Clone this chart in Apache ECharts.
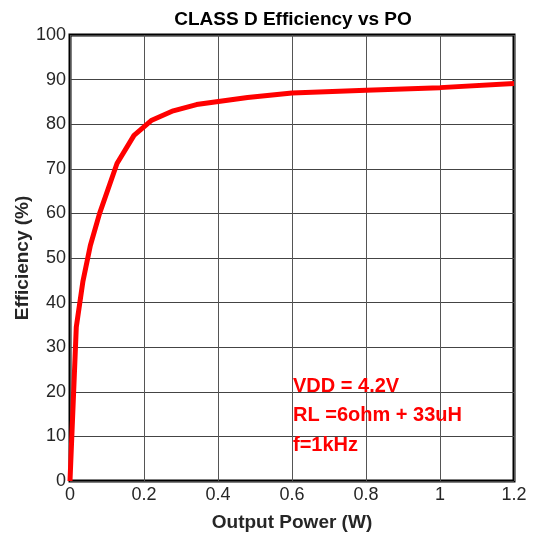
<!DOCTYPE html>
<html>
<head>
<meta charset="utf-8">
<script src="https://cdn.jsdelivr.net/npm/echarts@6/dist/echarts.min.js"></script>
<style>
  html, body { margin: 0; padding: 0; background: #fff; }
  #main { width: 533px; height: 536px; }
</style>
</head>
<body>
<div id="main"></div>
<script>
// output power (W) / efficiency (%)
var powerW = [0, 0.017, 0.035, 0.055, 0.08, 0.127, 0.173, 0.221, 0.279, 0.342, 0.401, 0.48, 0.6, 0.8, 1.0, 1.2];
var efficiency = [0, 34.5, 44.8, 52.8, 60, 71.2, 77.5, 80.9, 83.0, 84.4, 85.1, 86.0, 87.0, 87.6, 88.2, 89.1];
var notes = ['VDD = 4.2V', 'RL =6ohm + 33uH', 'f=1kHz'];

var chart = echarts.init(document.getElementById('main'));

var points = powerW.map(function (x, i) { return [x, efficiency[i]]; });

var option = {
    backgroundColor: '#fff',
    textStyle: { fontFamily: 'Liberation Sans, Arial, sans-serif' },
    title: {
        text: 'CLASS D Efficiency vs PO',
        left: 288,
        textAlign: 'center',
        top: 5,
        textStyle: { fontSize: 19, fontWeight: 'bold', color: '#000' }
    },
    grid: {
        left: 70, right: 19, top: 35, bottom: 55,
        outerBoundsMode: 'none',
        show: true,
        borderColor: '#000',
        borderWidth: 3
    },
    xAxis: {
        type: 'value',
        min: 0, max: 1.2, interval: 0.2,
        name: 'Output Power (W)',
        nameLocation: 'middle',
        nameGap: 32,
        nameTextStyle: { fontSize: 19, fontWeight: 'bold', color: '#262626' },
        axisLine: { show: false },
        axisTick: { show: false },
        axisLabel: {
            fontSize: 18, color: '#262626', margin: 5,
            formatter: function (v) { return +v.toFixed(1) + ''; }
        },
        splitLine: { show: true, lineStyle: { color: '#555', width: 1 } }
    },
    yAxis: {
        type: 'value',
        min: 0, max: 100, interval: 10,
        name: 'Efficiency (%)',
        nameLocation: 'middle',
        nameGap: 38,
        nameMoveOverlap: false,
        nameTextStyle: { fontSize: 19, fontWeight: 'bold', color: '#262626' },
        axisLine: { show: false },
        axisTick: { show: false },
        axisLabel: { fontSize: 18, color: '#262626', margin: 4 },
        splitLine: { show: true, lineStyle: { color: '#444', width: 1 } }
    },
    graphic: notes.map(function (t, i) {
        return {
            type: 'text',
            left: 293,
            top: 376 + i * 29.5,
            z: 10,
            style: {
                text: t,
                fill: '#ff0000',
                font: 'bold 20px Liberation Sans, Arial, sans-serif'
            }
        };
    }),
    series: [{
        type: 'line',
        data: points,
        showSymbol: false,
        smooth: false,
        lineStyle: { color: '#ff0000', width: 5 },
        z: 3
    }]
};

chart.setOption(option);
</script>
</body>
</html>
